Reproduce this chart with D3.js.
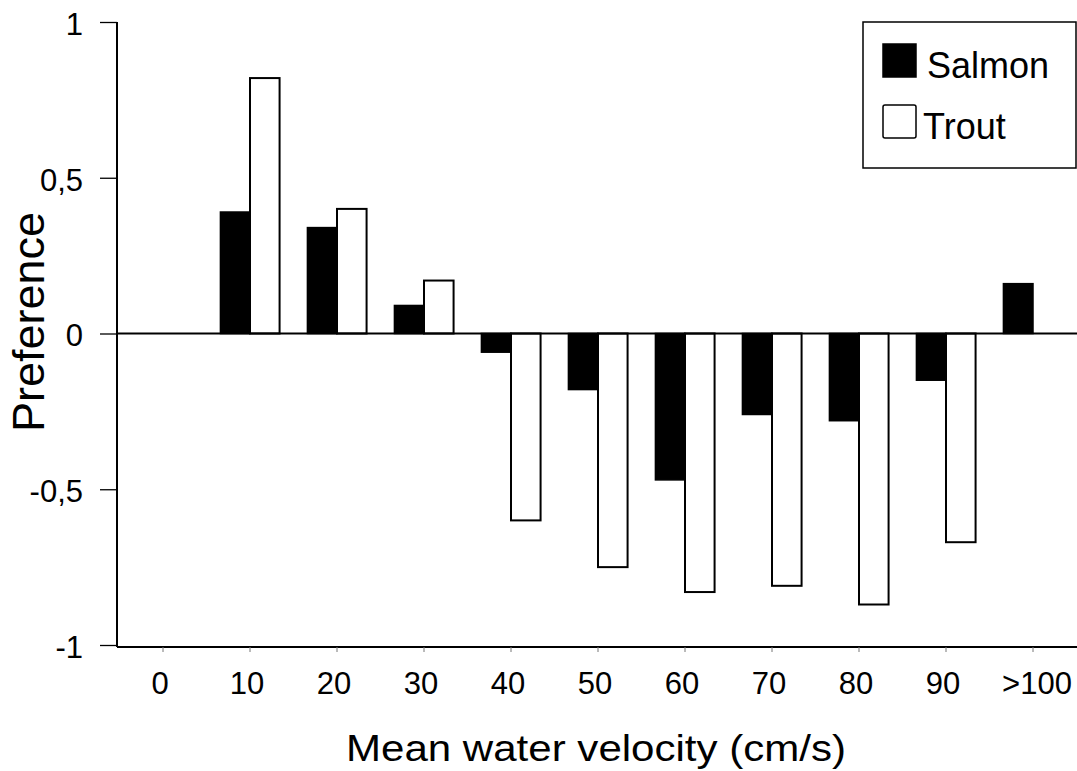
<!DOCTYPE html>
<meta charset="utf-8">
<script src="https://d3js.org/d3.v7.min.js"></script>
<style>
  body { margin: 0; background: #fff; }
  text { font-family: "Liberation Sans", Arial, Helvetica, sans-serif; fill: #000; }
</style>
<div id="chart"></div>
<script>

// data
var categories = ["0", "10", "20", "30", "40", "50", "60", "70", "80", "90", ">100"];
var salmon = [0, 0.39, 0.34, 0.09, -0.06, -0.18, -0.47, -0.26, -0.28, -0.15, 0.16];
var trout  = [0, 0.82, 0.40, 0.17, -0.60, -0.75, -0.83, -0.81, -0.87, -0.67, 0];
var yTicks = [1, 0.5, 0, -0.5, -1];
var seriesNames = ["Salmon", "Trout"];

var width = 1077, height = 771;

var svg = d3.select("#chart")
  .append("svg")
  .attr("width", width)
  .attr("height", height);

// scales
var x = d3.scaleBand()
  .domain(categories)
  .range([119.5, 1076.5])
  .padding(0);

var y = d3.scaleLinear()
  .domain([-1, 1])
  .range([645, 22]);

var barW = x.bandwidth() * 0.34;

// y axis
var yAxis = svg.append("g")
  .attr("transform", "translate(117,0)")
  .call(d3.axisLeft(y)
    .tickValues(yTicks)
    .tickSize(17)
    .tickPadding(17)
    .tickFormat(function(d) { return String(d).replace(".", ","); }));
yAxis.select(".domain").attr("stroke-width", 2).attr("d", "M0," + y(1) + "V" + (y(-1) + 2));
yAxis.selectAll(".tick line").attr("stroke-width", 1.3);
yAxis.selectAll(".tick text")
  .style("font-size", "31px")
  .attr("dy", "0.4em");

// x axis at the bottom
var xAxis = svg.append("g")
  .attr("transform", "translate(0," + (y(-1) + 2) + ")")
  .call(d3.axisBottom(x).tickSize(5).tickPadding(20));
xAxis.select(".domain").attr("stroke-width", 2).attr("d", "M117,0H" + width);
xAxis.selectAll(".tick line").attr("stroke", "#777").attr("stroke-width", 1);
xAxis.selectAll(".tick text")
  .style("font-size", "31px")
  .attr("dy", "0.71em")
  .attr("dx", function(d) { return d === ">100" ? 4 : -3; });

// bars
svg.selectAll(".salmon")
  .data(categories)
  .enter()
  .append("rect")
  .attr("class", "salmon")
  .attr("x", function(d) { return x(d) + x.bandwidth() / 2 - barW; })
  .attr("width", barW)
  .attr("y", function(d, i) { return Math.min(y(salmon[i]), y(0)); })
  .attr("height", function(d, i) { return Math.abs(y(salmon[i]) - y(0)); })
  .attr("fill", "#000")
  .attr("stroke", "#000")
  .attr("stroke-width", 1.5);

svg.selectAll(".trout")
  .data(categories)
  .enter()
  .append("rect")
  .attr("class", "trout")
  .attr("x", function(d) { return x(d) + x.bandwidth() / 2; })
  .attr("width", barW)
  .attr("y", function(d, i) { return Math.min(y(trout[i]), y(0)); })
  .attr("height", function(d, i) { return Math.abs(y(trout[i]) - y(0)); })
  .attr("fill", "#fff")
  .attr("stroke", "#000")
  .attr("stroke-width", 2);

// zero line
svg.append("line")
  .attr("x1", 117).attr("x2", width)
  .attr("y1", y(0)).attr("y2", y(0))
  .attr("stroke", "#000")
  .attr("stroke-width", 2);

// axis titles
svg.append("text")
  .attr("x", 596)
  .attr("y", 761)
  .attr("text-anchor", "middle")
  .style("font-size", "37px")
  .attr("textLength", 500)
  .attr("lengthAdjust", "spacingAndGlyphs")
  .text("Mean water velocity (cm/s)");

svg.append("text")
  .attr("transform", "translate(44,322) rotate(-90)")
  .attr("text-anchor", "middle")
  .style("font-size", "45px")
  .text("Preference");

// legend
var legend = svg.append("g");
legend.append("rect")
  .attr("x", 863).attr("y", 22)
  .attr("width", 213).attr("height", 146)
  .attr("fill", "#fff")
  .attr("stroke", "#000")
  .attr("stroke-width", 1.5);

var items = legend.selectAll(".item")
  .data(seriesNames)
  .enter()
  .append("g")
  .attr("transform", function(d, i) { return "translate(883," + (44 + i * 61) + ")"; });

items.append("rect")
  .attr("width", 33).attr("height", 33)
  .attr("rx", function(d, i) { return i ? 2 : 0; })
  .attr("fill", function(d, i) { return i ? "#fff" : "#000"; })
  .attr("stroke", "#000")
  .attr("stroke-width", 1.5);

items.append("text")
  .attr("x", function(d, i) { return i ? 40 : 44; })
  .attr("y", 34)
  .style("font-size", "36px")
  .text(function(d) { return d; });

</script>
